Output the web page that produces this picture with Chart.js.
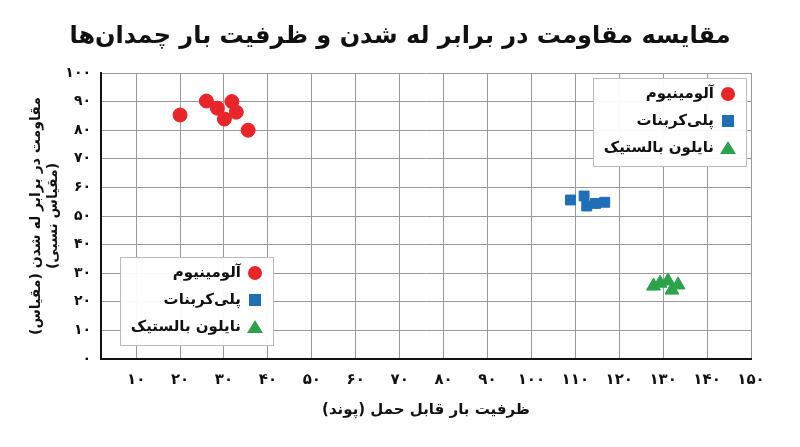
<!DOCTYPE html>
<html>
<head>
<meta charset="utf-8">
<script src="https://cdn.jsdelivr.net/npm/chart.js@4.4.1/dist/chart.umd.min.js"></script>
<style>
  html, body { margin: 0; padding: 0; background: #fff; }
  #wrap { width: 800px; height: 447px; }
</style>
</head>
<body>
<div id="wrap"><canvas id="c"></canvas></div>
<script>
// --- DATA ---
const seriesNames = ['آلومینیوم', 'پلی‌کربنات', 'نایلون بالستیک'];
const aluminumX = [20, 26, 28.5, 31.8, 30.1, 32.8, 35.5];
const aluminumY = [85.3, 90.2, 87.7, 90, 83.9, 86.3, 80];
const polyX = [108.9, 112, 112.6, 114.6, 116.7];
const polyY = [55.6, 57, 53.5, 54.4, 54.8];
const nylonX = [127.8, 129.3, 131.1, 132, 133.4];
const nylonY = [25.5, 26.5, 27.3, 24.1, 25.9];
const xTicks = [10, 20, 30, 40, 50, 60, 70, 80, 90, 100, 110, 120, 130, 140, 150];

const FONT = "'DejaVu Sans', sans-serif";
const fa = n => String(n).replace(/\d/g, d => '۰۱۲۳۴۵۶۷۸۹'[d]);
const pts = (xs, ys) => xs.map((x, i) => ({ x: x, y: ys[i] }));

// --- PLUGINS ---
const titlePlugin = {
  id: 'titleRtl',
  afterDraw(chart) {
    const ctx = chart.ctx;
    ctx.save();
    ctx.fillStyle = '#111';
    ctx.font = 'bold 24px ' + FONT;
    ctx.textAlign = 'center';
    ctx.textBaseline = 'middle';
    ctx.direction = 'rtl';
    ctx.fillText('مقایسه مقاومت در برابر له شدن و ظرفیت بار چمدان‌ها', 400, 37);
    ctx.restore();
  }
};

// two identical legend boxes, drawn from the datasets
const legendsPlugin = {
  id: 'twoLegends',
  afterDatasetsDraw(chart) {
    const ctx = chart.ctx;
    const boxes = [[593, 78], [120, 257]];
    boxes.forEach(([bx, by]) => {
      const w = 153, h = 88;
      ctx.save();
      ctx.fillStyle = 'rgba(255,255,255,0.95)';
      ctx.strokeStyle = '#bbb';
      ctx.lineWidth = 1;
      ctx.fillRect(bx, by, w, h);
      ctx.strokeRect(bx + 0.5, by + 0.5, w, h);
      chart.data.datasets.forEach((ds, i) => {
        const cy = by + 16 + i * 27;
        const mx = bx + w - 18;
        ctx.fillStyle = ds.backgroundColor;
        ctx.beginPath();
        if (ds.pointStyle === 'circle') {
          ctx.arc(mx, cy, 7, 0, Math.PI * 2);
        } else if (ds.pointStyle === 'rect') {
          ctx.rect(mx - 6, cy - 6, 12, 12);
        } else {
          ctx.moveTo(mx, cy - 7); ctx.lineTo(mx + 8, cy + 6); ctx.lineTo(mx - 8, cy + 6); ctx.closePath();
        }
        ctx.fill();
        ctx.fillStyle = '#111';
        ctx.font = 'bold 15px ' + FONT;
        ctx.textAlign = 'right';
        ctx.textBaseline = 'middle';
        ctx.direction = 'rtl';
        ctx.fillText(ds.label, mx - 14, cy);
      });
      ctx.restore();
    });
  }
};

new Chart(document.getElementById('c'), {
  type: 'scatter',
  data: {
    datasets: [
      { label: seriesNames[0], data: pts(aluminumX, aluminumY), backgroundColor: '#e8262a', borderColor: '#e8262a', pointStyle: 'circle', pointRadius: 7, pointHoverRadius: 7 },
      { label: seriesNames[1], data: pts(polyX, polyY), backgroundColor: '#1f6fb8', borderColor: '#1f6fb8', pointStyle: 'rect', pointRadius: 7, pointHoverRadius: 7 },
      { label: seriesNames[2], data: pts(nylonX, nylonY), backgroundColor: '#2ca24a', borderColor: '#2ca24a', pointStyle: 'triangle', pointRadius: 8, pointHoverRadius: 8 }
    ]
  },
  options: {
    responsive: true,
    maintainAspectRatio: false,
    animation: false,
    layout: { padding: { top: 73, right: 49, left: 24, bottom: 24 } },
    plugins: { legend: { display: false }, tooltip: { enabled: false } },
    scales: {
      x: {
        type: 'linear', min: 2, max: 150,
        afterBuildTicks: axis => { axis.ticks = xTicks.map(v => ({ value: v })); },
        afterFit: axis => { axis.height = 64; },
        grid: { color: '#999', lineWidth: 1, drawTicks: false },
        border: { color: '#111', width: 2 },
        ticks: { color: '#111', padding: 12, font: { family: FONT, size: 15, weight: 'bold' }, callback: v => fa(v), maxRotation: 0, autoSkip: false },
        title: { display: true, text: 'ظرفیت بار قابل حمل (پوند)', color: '#111', font: { family: FONT, size: 15, weight: 'bold' }, padding: { top: 8 } }
      },
      y: {
        min: 0, max: 100,
        afterFit: axis => { axis.width = 77; },
        grid: { color: '#999', lineWidth: 1, drawTicks: false },
        border: { color: '#111', width: 2 },
        ticks: { stepSize: 10, color: '#111', padding: 10, font: { family: FONT, size: 14, weight: 'bold' }, callback: v => fa(v) },
        title: { display: true, text: ['مقاومت در برابر له شدن (مقیاس)', '(مقیاس نسبی)'], color: '#111', font: { family: FONT, size: 14, weight: 'bold' }, padding: { bottom: 4 } }
      }
    }
  },
  plugins: [titlePlugin, legendsPlugin]
});
</script>
</body>
</html>
